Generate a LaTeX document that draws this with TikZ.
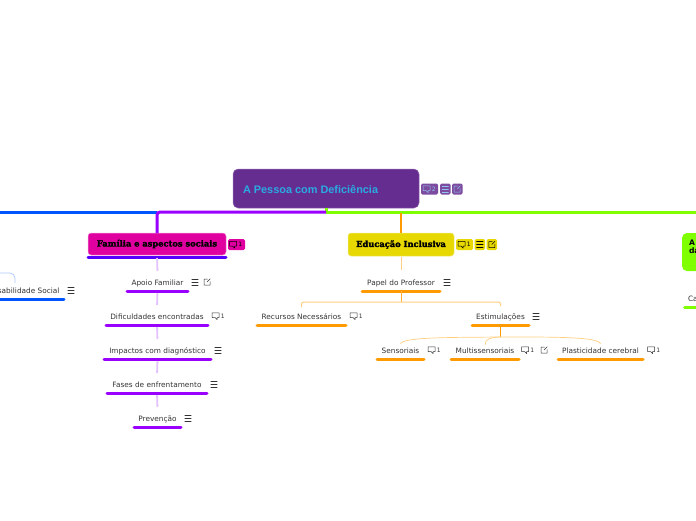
\documentclass[tikz,border=0pt]{standalone}
\usepackage{fontspec}
\setmainfont{DejaVu Sans}
\newfontfamily\titlefont{Liberation Sans}
\newfontfamily\slabfont[BoldFeatures={FakeBold=2.2}]{DejaVu Serif}
\usetikzlibrary{calc}
\definecolor{rootfill}{HTML}{662D91}
\definecolor{roottext}{HTML}{29ABE2}
\definecolor{rooticon}{HTML}{8FC4EC}
\definecolor{magfill}{HTML}{E000A0}
\definecolor{yelfill}{HTML}{E6D800}
\definecolor{grnline}{HTML}{80FF00}
\definecolor{purline}{HTML}{9900FF}
\definecolor{bluline}{HTML}{0055FF}
\definecolor{vioedge}{HTML}{5500FF}
\definecolor{orgline}{HTML}{FF9A00}
\definecolor{orglight}{HTML}{FFCE80}
\definecolor{purlight}{HTML}{E3C2FF}
\definecolor{blulight}{HTML}{B0C8FF}
\definecolor{txt}{HTML}{333333}
\tikzset{
  every node/.style={inner sep=0pt,outer sep=0pt},
  topicbox/.style={rectangle,minimum height=18pt,font=\fontsize{7.35}{8}\selectfont,text=txt,anchor=center},
  underl/.style={line width=3pt,line cap=round},
  branch/.style={line width=3pt},
  purtie/.style={line width=1.8pt,purlight},
  orgtie/.style={line width=1pt,orglight},
  headbox/.style={rectangle,rounded corners=3pt,font=\fontsize{8.3}{9}\selectfont\slabfont\bfseries,text=black},
  badge/.style={rounded corners=1.5pt},
  ico/.style={line width=.5pt,line cap=round,line join=round},
  count/.style={font=\fontsize{6}{7}\selectfont},
}
% \ibub{x}{y}{colour}{count}: comment bubble with its count
\newcommand{\ibub}[4]{%
  \draw[ico,#3] (#1-3.5,#2-3.2) -- (#1+3.5,#2-3.2) -- (#1+3.5,#2+1.5) -- (#1+1.6,#2+1.5) -- (#1+1.6,#2+3.6) -- (#1-.6,#2+1.5) -- (#1-3.5,#2+1.5) -- cycle;
  \node[count,text=#3] at (#1+7.2,#2+.2) {#4};}
\newcommand{\imenu}[3]{%
  \draw[ico,#3] (#1-3.2,#2-3) -- (#1+3.2,#2-3) (#1-3.2,#2) -- (#1+3.2,#2) (#1-3.2,#2+3) -- (#1+3.2,#2+3);}
\newcommand{\ilink}[3]{%
  \draw[ico,#3] (#1+.5,#2-3) -- (#1-3,#2-3) -- (#1-3,#2+3) -- (#1+3,#2+3) -- (#1+3,#2-.5) (#1,#2) -- (#1+3.2,#2-3.2);}
% \topic{name}{x0}{x1}{y of underline minus 9}{line colour}{text}
\newcommand{\topic}[6]{%
  \node[topicbox,minimum width=#3pt-#2pt,text depth=0pt] (#1) at ({(#2+#3)/2},#4) {\raisebox{-1pt}{#6}};
  \draw[underl,#5] (#1.south west) ++(1,0) -- ($(#1.south east)+(-1,0)$);}
\begin{document}
\begin{tikzpicture}[x=1pt,y=-1pt]
\useasboundingbox (0,0) rectangle (696,520);
\clip (0,0) rectangle (696,520);

% root
\node[rectangle,rounded corners=5pt,fill=rootfill,draw=rootfill!70!white,line width=.5pt,minimum width=186pt,minimum height=39pt] (root) at (326,188.5) {};
\node[anchor=west,text=roottext,font=\fontsize{10.9}{12}\selectfont\titlefont\bfseries] (roott) at (243,189.5) {A Pessoa com Deficiência};
\fill[badge,rootfill!85!white] (421,183.5) rectangle (438,194.5);
\fill[badge,rootfill!85!white] (440,183.5) rectangle (450.5,194.5);
\fill[badge,rootfill!85!white] (452,183.5) rectangle (462.5,194.5);
\ibub{426.5}{189}{rooticon}{2}
\imenu{445.2}{189}{rooticon}
\ilink{457.2}{189}{rooticon}

\coordinate (hub) at (326,212);
\coordinate (lend) at (0,212);
\coordinate (rend) at (696,212);

% heads
\node[headbox,fill=magfill,draw=magfill!40!white,line width=.5pt,minimum width=138pt,minimum height=22pt] (fam) at (157,244) {Família e aspectos sociais};
\node[headbox,fill=yelfill,draw=yelfill!50!white,line width=.5pt,minimum width=106pt,minimum height=23pt] (edu) at (401,244.5) {Educação Inclusiva};
\node[rectangle,rounded corners=5pt,fill=grnline,minimum width=40pt,minimum height=38pt,anchor=west] (acc) at (682,252) {};
\node[anchor=west,align=left,font=\fontsize{7.6}{8}\selectfont\bfseries,text=black] (acct) at (689,247) {A\\da};

% main branches
\draw[branch,grnline] (hub) -- (rend);
\draw[branch,grnline] (root.south) -- (hub);
\draw[branch,bluline] (lend) -- (157,212);
\draw[branch,purline,rounded corners=3pt] (hub) -- (157,212) -- (fam.north);
\draw[line width=2.2pt,orgline] (401,213) -- (edu.north);
\draw[underl,vioedge] (fam.south west) ++(0,2) -- ($(fam.south east)+(0,2)$);

% family column
\topic{apoio}{126}{189}{282}{purline}{Apoio Familiar}
\topic{difi}{105}{209}{316}{purline}{Dificuldades encontradas}
\topic{impa}{103}{212}{350}{purline}{Impactos com diagnóstico}
\topic{fase}{106}{208}{384}{purline}{Fases de enfrentamento}
\topic{prev}{133}{182}{418}{purline}{Prevenção}
\draw[purtie,shorten <=3pt,shorten >=2pt] (fam.south) -- (apoio.north);
\draw[purtie,shorten <=2pt,shorten >=2pt] (apoio.south) -- (difi.north);
\draw[purtie,shorten <=2pt,shorten >=2pt] (difi.south) -- (impa.north);
\draw[purtie,shorten <=2pt,shorten >=2pt] (impa.south) -- (fase.north);
\draw[purtie,shorten <=2pt,shorten >=2pt] (fase.south) -- (prev.north);

% left partial topic
\node[anchor=east,font=\fontsize{7.35}{8}\selectfont,text=txt] (soc) at (59.5,291) {sabilidade Social};
\coordinate (socout) at (-6,273);
\draw[underl,bluline] (-5,299) -- (64,299);
\draw[line width=.8pt,blulight,rounded corners=5pt] (socout) -- (15,273) -- (15,283);

% education column
\topic{pap}{361}{441}{282}{orgline}{Papel do Professor}
\topic{rec}{256}{347}{316}{orgline}{Recursos Necessários}
\topic{est}{471}{530}{316}{orgline}{Estimulações}
\topic{sen}{376}{425}{350}{orgline}{Sensoriais}
\topic{mul}{450}{520}{350}{orgline}{Multissensoriais}
\topic{pla}{557}{644}{350}{orgline}{Plasticidade cerebral}
\draw[orgtie,shorten <=1pt,shorten >=3pt] (edu.south) -- (pap.north);
\draw[line width=1pt,orgline!80!white] (pap.south) -- (401,302);
\draw[orgtie,rounded corners=2pt,shorten >=1pt] (rec.north) -- (rec.north |- 401,302) -- (est.north |- 401,302) -- (est.north);
\draw[line width=1pt,orgline] (est.south) -- (500.5,337);
\draw[line width=.7pt,orglight] (500.5,337) .. controls (450,337.5) and (402,337) .. (400.5,344);
\draw[line width=.7pt,orglight] (485,345) .. controls (485,339) and (490,337.5) .. (500.5,337);
\draw[line width=.7pt,orglight] (500.5,337) .. controls (550,337) and (600,336.5) .. (600.5,344);

% icons beside the topics
\imenu{195}{282}{txt}\ilink{207}{282}{txt}
\ibub{215.5}{316}{txt}{1}
\imenu{218}{350}{txt}
\imenu{214}{384}{txt}
\imenu{188}{418}{txt}
\imenu{71}{290}{txt}
\imenu{447}{282}{txt}
\ibub{353.5}{316}{txt}{1}
\imenu{536}{316}{txt}
\ibub{431.5}{350}{txt}{1}
\ibub{525}{350}{txt}{1}\ilink{544}{350}{txt}
\ibub{651}{350}{txt}{1}

% head badges
\fill[badge,magfill] (228,239) rectangle (245,250);
\ibub{233}{244.5}{black}{1}
\fill[badge,yelfill] (456,239) rectangle (473,250);
\fill[badge,yelfill] (474.5,239) rectangle (485,250);
\fill[badge,yelfill] (486.5,239) rectangle (497,250);
\ibub{461.5}{244.5}{black}{1}
\imenu{479.8}{244.5}{black}
\ilink{491.8}{244.5}{black}

% right partial topic
\node[anchor=west,font=\fontsize{7.35}{8}\selectfont,text=txt] (cat) at (688,298.5) {Ca};
\draw[underl,grnline] (684.5,307) -- (700,307);
\end{tikzpicture}
\end{document}
